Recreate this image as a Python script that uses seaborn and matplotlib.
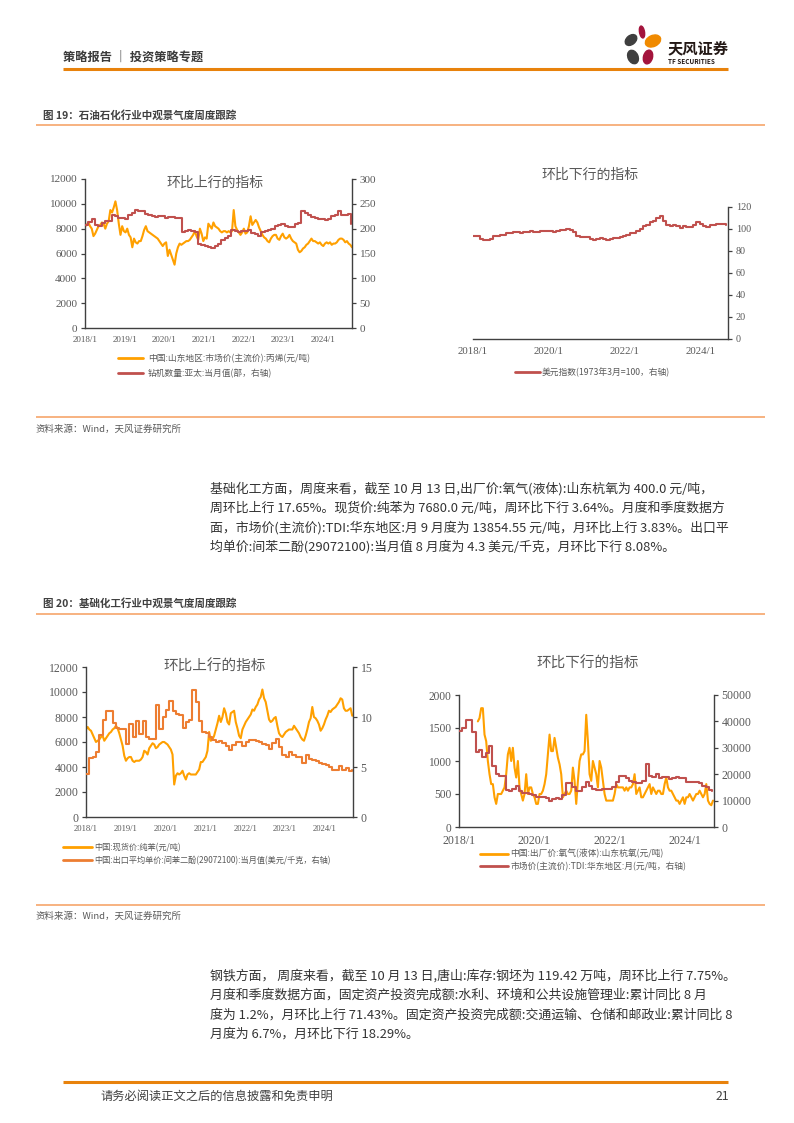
import matplotlib
matplotlib.use("Agg")
import matplotlib.pyplot as plt
from matplotlib.lines import Line2D
from matplotlib.patches import Ellipse
import pandas as pd
import seaborn as sns

# ---------------- data ----------------
# chart 1 (figure 19, left): propylene price (semi-monthly) and APAC rig count (monthly)
propylene_price = [
    8200, 8300, 8500, 8200, 8000, 7400, 7600, 7900, 8200, 8300, 8500, 8400, 8000, 8400, 8600, 9500, 9300, 9700, 10200, 9500, 8400, 7500, 8200, 7800,
    7700, 8000, 7500, 7300, 6500, 7200, 6900, 6800, 7000, 7000, 7400, 7900, 8200, 7800, 7700, 7600, 7500, 7400, 7300, 7200, 7000, 6800, 6600, 6800,
    6900, 5800, 6300, 5900, 5500, 5100, 6000, 6500, 6800, 6700, 6800, 6900, 7000, 7000, 7100, 7300, 7500, 7800, 7400, 7100, 8000, 7600, 7000, 7300,
    7200, 8400, 8200, 8000, 8500, 8200, 8100, 8000, 7800, 7700, 7800, 7800, 7700, 7800, 7700, 7800, 9500, 8200, 7900, 7700, 7500, 7700, 8000, 7600,
    7700, 8200, 9000, 8300, 8500, 8700, 8500, 8100, 7800, 7500, 7300, 7200, 7000, 6900, 7200, 7400, 7500, 7500, 7200, 7100, 7400, 7600, 7300, 7200,
    7300, 7500, 7200, 7000, 6900, 6800, 6300, 6100, 6200, 6400, 6500, 6700, 6800, 7000, 7200, 7000, 7000, 6900, 6800, 6900, 6700, 6600, 6800, 6900,
    6800, 6900, 6700, 6800, 6800, 6900, 7100, 7200, 7200, 7100, 6900, 7000, 6800, 6700, 6500,
]
rig_count_apac = [
    207, 213, 220, 208, 205, 212, 215, 215, 228, 225, 222, 221, 220, 228, 232, 238, 236, 235, 230, 228,
    226, 224, 226, 226, 222, 224, 223, 222, 222, 194, 196, 197, 196, 194, 170, 168, 166, 163, 162, 166,
    170, 178, 182, 185, 198, 196, 193, 195, 196, 198, 192, 190, 186, 194, 196, 198, 200, 206, 208, 210,
    206, 204, 204, 210, 212, 235, 232, 228, 224, 221, 220, 219, 218, 220, 225, 228, 236, 228, 228, 230,
    210,
]

# chart 2 (figure 19, right): US dollar index (monthly)
usd_index = [
    94, 94, 91, 90, 90, 91, 94, 94, 95, 95, 96, 96, 97, 97, 96, 97, 97, 98, 97, 97,
    98, 98, 98, 98, 97, 98, 99, 99, 100, 99, 97, 94, 93, 93, 93, 91, 90, 91, 92, 91,
    90, 91, 92, 92, 93, 94, 95, 96, 96, 98, 100, 103, 104, 106, 107, 110, 112, 107, 104, 103,
    104, 103, 101, 103, 102, 102, 104, 106, 105, 103, 102, 104, 104, 105, 105, 105, 104,
]

# chart 3 (figure 20, left): benzene spot price (semi-monthly), resorcinol export price (monthly)
benzene_price = [
    7000, 7200, 7000, 6900, 6600, 6300, 6000, 6100, 6200, 6400, 6500, 6100, 6300, 6500, 6700, 6800, 7000, 7100, 7300, 7100, 6700, 6200, 5700, 4900,
    4500, 4700, 4800, 4800, 4500, 4400, 4500, 4500, 4500, 4600, 4800, 5300, 5200, 5000, 5500, 5700, 5900, 5800, 5500, 5600, 5800, 5900, 6000, 6000,
    5900, 5800, 5600, 5400, 5000, 2600, 3300, 3500, 3400, 3500, 3700, 3300, 3000, 3400, 3500, 3400, 3400, 3400, 3400, 3600, 3800, 4400, 4400, 4600,
    4800, 5300, 6800, 6100, 6200, 6500, 7000, 7500, 8100, 7600, 8000, 8700, 8300, 7600, 7400, 8300, 8400, 8500, 7600, 7100, 6500, 6300, 7000, 7300,
    7600, 7800, 8000, 8200, 8600, 8500, 8800, 9000, 9400, 9600, 10200, 9500, 9200, 8500, 7800, 7600, 7700, 7900, 8000, 7300, 6700, 6500, 6400, 6600,
    6800, 6900, 7000, 7000, 7000, 7300, 7100, 6900, 6700, 6400, 6200, 6100, 6500, 7000, 7600, 7900, 8800, 8000, 7900, 7700, 7400, 6900, 7100, 7400,
    7800, 8100, 8500, 8400, 8600, 8700, 8800, 9000, 9200, 9500, 9400, 8700, 8500, 8500, 8600, 8700, 8100,
]
resorcinol_export_price = [
    4.3, 5.9, 6.0, 6.5, 8.2, 9.7, 10.6, 10.6, 9.4, 8.9, 8.8, 8.8, 7.3, 9.3, 8.0, 9.6, 8.3, 9.6, 8.0, 7.8,
    7.8, 11.2, 8.8, 10.0, 10.7, 11.6, 10.6, 10.3, 10.2, 8.9, 9.5, 9.7, 12.7, 11.5, 9.6, 8.5, 8.4, 8.0, 7.7, 7.5,
    7.6, 7.4, 7.1, 6.7, 7.2, 7.5, 7.5, 7.1, 7.5, 7.7, 7.7, 7.6, 7.5, 7.3, 7.2, 6.8, 7.4, 7.8, 7.0, 6.2,
    6.0, 6.5, 6.2, 6.0, 6.0, 5.4, 6.2, 5.8, 5.7, 5.6, 5.4, 5.3, 5.2, 5.0, 4.7, 4.7, 5.1, 4.7, 4.9, 4.6,
    4.7,
]

# chart 4 (figure 20, right): oxygen ex-factory price (semi-monthly), TDI market price (monthly)
oxygen_price = [
    1600, 1650, 1800, 1800, 1400, 1300, 1000, 800, 650, 650, 450, 350, 500, 500, 500, 550, 600, 800, 1100, 1200, 1000, 1200, 900, 750,
    1000, 600, 500, 400, 500, 800, 500, 600, 600, 500, 450, 350, 350, 500, 500, 550, 650, 800, 1100, 1400, 1150, 1150, 1350, 1200,
    1050, 950, 800, 450, 500, 550, 500, 500, 550, 900, 700, 350, 700, 1000, 1100, 1100, 1150, 1700, 1300, 800, 700, 1000, 900, 800,
    600, 1000, 900, 700, 500, 400, 400, 400, 400, 400, 500, 650, 600, 600, 600, 600, 550, 600, 550, 600, 600, 650, 800, 500,
    550, 600, 450, 450, 500, 550, 600, 650, 500, 600, 550, 500, 550, 550, 500, 500, 650, 750, 600, 550, 550, 500, 450, 400,
    400, 350, 400, 450, 350, 450, 450, 500, 450, 400, 450, 500, 500, 550, 500, 450, 500, 650, 400, 350, 330, 400,
]
tdi_price = [
    36500, 37500, 40500, 40500, 36000, 28500, 29000, 26500, 28000, 30500, 23000, 20000, 19500, 19500, 14000, 13500, 14500, 15500, 13500, 13000,
    13000, 12500, 12000, 11500, 11500, 11500, 11000, 10000, 10500, 11000, 10500, 12000, 16500, 16500, 15000, 13500, 13500, 15000, 17000, 15500,
    14500, 14000, 14000, 14500, 14500, 14500, 15000, 17000, 19500, 19500, 18500, 17500, 17000, 16500, 16500, 17500, 24000, 19500, 19000, 20000,
    18500, 19000, 19000, 18000, 18500, 19000, 18500, 18500, 17000, 17000, 17000, 17000, 16500, 15500, 15000, 14000, 13500,
]

years_all = ["2018/1", "2019/1", "2020/1", "2021/1", "2022/1", "2023/1", "2024/1"]
years_two = ["2018/1", "2020/1", "2022/1", "2024/1"]

# ---------------- style ----------------
sns.set_style("white")
plt.rcParams["font.family"] = ["Noto Sans CJK SC", "DejaVu Sans"]

W, H = 794, 1123
ORANGE = "#FFA000"
RED = "#C0504D"
DARK_ORANGE = "#ED7D31"
SPINE = "#404040"
GREY = "#595959"
SERIF = "Liberation Serif"
LINE_ORANGE = "#E8820C"
SEP = "#F6A66B"

fig = plt.figure(figsize=(W / 100, H / 100), dpi=100)


def fx(px):
    return px / W


def fy(py):
    return 1 - py / H


def rect(x0, y0, x1, y1):
    return [x0 / W, 1 - y1 / H, (x1 - x0) / W, (y1 - y0) / H]


def hline(x0, x1, y, color, lw):
    fig.add_artist(Line2D([fx(x0), fx(x1)], [fy(y), fy(y)], transform=fig.transFigure,
                          color=color, lw=lw, solid_capstyle="butt"))


def text(x, y, s, size, color="#333333", weight="normal", ha="left", family=None):
    kw = {}
    if family:
        kw["family"] = family
    fig.text(fx(x), fy(y), s, fontsize=size, color=color, weight=weight, ha=ha, va="center", **kw)


def dates(start, end, n):
    return pd.date_range(start, end, periods=n)


def style_x(ax, xmax, labels, size):
    ax.set_xlim(pd.Timestamp("2018-01-01"), pd.Timestamp(xmax))
    ticks = [pd.Timestamp(lab.split("/")[0] + "-01-01") for lab in labels]
    ax.set_xticks(ticks, labels=labels, fontfamily=SERIF, fontsize=size, color=GREY)
    ax.set_xlabel("")


def style_y(ax, ticks, size):
    ax.set_ylim(ticks[0], ticks[-1])
    ax.set_yticks(ticks, labels=[str(t) for t in ticks], fontfamily=SERIF, fontsize=size, color=GREY)
    ax.set_ylabel("")


def style_spines(ax, visible):
    for side in ["left", "right", "top", "bottom"]:
        ax.spines[side].set_visible(side in visible)
        ax.spines[side].set_color(SPINE)
        ax.spines[side].set_linewidth(1.0)
    ax.tick_params(direction="out", length=3, width=0.9, color=SPINE, pad=2.5)
    ax.grid(False)
    ax.patch.set_alpha(0)


# ---------------- page header ----------------
text(63, 57, "策略报告 ｜ 投资策略专题", 8.8, color="#3a3a3a", weight="bold")
hline(63, 728, 68.5, LINE_ORANGE, 2.2)
logo_petals = [
    (631, 40, 9, 13, -50, "#3f3f3f"),
    (642, 32, 5, 12, 10, "#A3143C"),
    (653, 41, 16, 11, 25, "#F08A00"),
    (633, 57, 10, 14, 25, "#3f3f3f"),
    (648, 57, 9, 14, -15, "#A3143C"),
]
for cx, cy, w, h, ang, col in logo_petals:
    fig.add_artist(Ellipse((cx / 100, (H - cy) / 100), w / 100, h / 100, angle=ang,
                           transform=fig.dpi_scale_trans, color=col))
text(668, 48, "天风证券", 11, color="#231815", weight="bold")
text(668, 62, "TF SECURITIES", 4.6, color="#231815", weight="bold")

# ---------------- figure 19 ----------------
text(43, 115.5, "图 19：石油石化行业中观景气度周度跟踪", 7.6, color="#404040", weight="bold")
hline(36, 765, 125.5, SEP, 1.2)

# chart 1
ax1 = fig.add_axes(rect(85, 179, 352, 328))
sns.lineplot(x=dates("2018-01-01", "2024-09-24", len(propylene_price)), y=propylene_price,
             ax=ax1, color=ORANGE, lw=1.5)
ax1r = ax1.twinx()
sns.lineplot(x=dates("2018-01-01", "2024-09-17", len(rig_count_apac)), y=rig_count_apac,
             ax=ax1r, color=RED, lw=1.5, drawstyle="steps-post")
style_spines(ax1, ["left", "bottom"])
style_spines(ax1r, ["right"])
style_x(ax1, "2024-09-24", years_all, 6.5)
style_y(ax1, [0, 2000, 4000, 6000, 8000, 10000, 12000], 8)
style_y(ax1r, [0, 50, 100, 150, 200, 250, 300], 8)
ax1r.set_xlim(ax1.get_xlim())
text(215, 182.5, "环比上行的指标", 10, color=GREY, ha="center")
fig.legend(handles=[Line2D([], [], color=ORANGE, lw=2), Line2D([], [], color=RED, lw=2)],
           labels=["中国:山东地区:市场价(主流价):丙烯(元/吨)", "钻机数量:亚太:当月值(部，右轴)"],
           loc="center left", bbox_to_anchor=(fx(118), fy(366)), frameon=False, fontsize=6.3,
           handlelength=2.9, handletextpad=0.5, labelspacing=0.65, borderpad=0, borderaxespad=0,
           labelcolor=GREY)

# chart 2
ax2 = fig.add_axes(rect(473, 207, 728, 339))
sns.lineplot(x=dates("2018-01-01", "2024-09-05", len(usd_index)), y=usd_index,
             ax=ax2, color=RED, lw=1.5, drawstyle="steps-post")
style_spines(ax2, ["right", "bottom"])
ax2.yaxis.tick_right()
style_x(ax2, "2024-09-20", years_two, 7.8)
style_y(ax2, [0, 20, 40, 60, 80, 100, 120], 7.3)
text(590, 175, "环比下行的指标", 10, color=GREY, ha="center")
fig.legend(handles=[Line2D([], [], color=RED, lw=2)], labels=["美元指数(1973年3月=100，右轴)"],
           loc="center left", bbox_to_anchor=(fx(515), fy(372)), frameon=False, fontsize=6.3,
           handlelength=2.8, handletextpad=0.3, borderpad=0, borderaxespad=0, labelcolor=GREY)

text(36, 429, "资料来源：Wind，天风证券研究所", 6.8, color=GREY)
hline(36, 765, 417, SEP, 1.2)

# ---------------- paragraph 1 ----------------
para1 = [
    "基础化工方面，周度来看，截至 10 月 13 日,出厂价:氧气(液体):山东杭氧为 400.0 元/吨，",
    "周环比上行 17.65%。现货价:纯苯为 7680.0 元/吨，周环比下行 3.64%。月度和季度数据方",
    "面，市场价(主流价):TDI:华东地区:月 9 月度为 13854.55 元/吨，月环比上行 3.83%。出口平",
    "均单价:间苯二酚(29072100):当月值 8 月度为 4.3 美元/千克，月环比下行 8.08%。",
]
for i, line in enumerate(para1):
    text(210, 488.5 + 19.5 * i, line, 9.3)

# ---------------- figure 20 ----------------
text(43, 603.5, "图 20：基础化工行业中观景气度周度跟踪", 7.6, color="#404040", weight="bold")
hline(36, 765, 613.5, SEP, 1.2)

# chart 3
ax3 = fig.add_axes(rect(86, 667, 353, 817))
sns.lineplot(x=dates("2018-01-01", "2024-09-10", len(benzene_price)), y=benzene_price,
             ax=ax3, color=ORANGE, lw=1.5)
ax3r = ax3.twinx()
sns.lineplot(x=dates("2018-01-01", "2024-09-10", len(resorcinol_export_price)), y=resorcinol_export_price,
             ax=ax3r, color=DARK_ORANGE, lw=1.5, drawstyle="steps-post")
style_spines(ax3, ["left", "bottom"])
style_spines(ax3r, ["right"])
style_x(ax3, "2024-09-17", years_all, 6.2)
style_y(ax3, [0, 2000, 4000, 6000, 8000, 10000, 12000], 8.5)
style_y(ax3r, [0, 5, 10, 15], 8.5)
ax3r.set_xlim(ax3.get_xlim())
text(215, 667, "环比上行的指标", 10.5, color=GREY, ha="center")
fig.legend(handles=[Line2D([], [], color=ORANGE, lw=2), Line2D([], [], color=DARK_ORANGE, lw=2)],
           labels=["中国:现货价:纯苯(元/吨)", "中国:出口平均单价:间苯二酚(29072100):当月值(美元/千克，右轴)"],
           loc="center left", bbox_to_anchor=(fx(63), fy(854)), frameon=False, fontsize=5.9,
           handlelength=3.5, handletextpad=0.3, labelspacing=0.55, borderpad=0, borderaxespad=0,
           labelcolor=GREY)

# chart 4
ax4 = fig.add_axes(rect(459, 695, 714, 827))
sns.lineplot(x=dates("2018-07-03", "2024-10-02", len(oxygen_price)), y=oxygen_price,
             ax=ax4, color=ORANGE, lw=1.5)
ax4r = ax4.twinx()
sns.lineplot(x=dates("2018-01-01", "2024-09-27", len(tdi_price)), y=tdi_price,
             ax=ax4r, color=RED, lw=1.5, drawstyle="steps-post")
style_spines(ax4, ["left", "bottom"])
style_spines(ax4r, ["right"])
style_x(ax4, "2024-10-12", years_two, 8.6)
style_y(ax4, [0, 500, 1000, 1500, 2000], 8.3)
style_y(ax4r, [0, 10000, 20000, 30000, 40000, 50000], 8.5)
ax4r.set_xlim(ax4.get_xlim())
text(588, 664, "环比下行的指标", 10.5, color=GREY, ha="center")
fig.legend(handles=[Line2D([], [], color=ORANGE, lw=2), Line2D([], [], color=RED, lw=2)],
           labels=["中国:出厂价:氧气(液体):山东杭氧(元/吨)", "市场价(主流价):TDI:华东地区:月(元/吨，右轴)"],
           loc="center left", bbox_to_anchor=(fx(480), fy(860)), frameon=False, fontsize=6.3,
           handlelength=3.2, handletextpad=0.3, labelspacing=0.35, borderpad=0, borderaxespad=0,
           labelcolor=GREY)

text(36, 916, "资料来源：Wind，天风证券研究所", 6.8, color=GREY)
hline(36, 765, 905, SEP, 1.2)

# ---------------- paragraph 2 ----------------
para2 = [
    "钢铁方面， 周度来看，截至 10 月 13 日,唐山:库存:钢坯为 119.42 万吨，周环比上行 7.75%。",
    "月度和季度数据方面，固定资产投资完成额:水利、环境和公共设施管理业:累计同比 8 月",
    "度为 1.2%，月环比上行 71.43%。固定资产投资完成额:交通运输、仓储和邮政业:累计同比 8",
    "月度为 6.7%，月环比下行 18.29%。",
]
for i, line in enumerate(para2):
    text(210, 976 + 19.5 * i, line, 9.3)

# ---------------- footer ----------------
hline(63, 728, 1081.5, LINE_ORANGE, 2.2)
text(100, 1096, "请务必阅读正文之后的信息披露和免责申明", 8.8, color="#404040")
text(729, 1096, "21", 8.8, color="#404040", ha="right")

fig.savefig("out.png", dpi=100)
